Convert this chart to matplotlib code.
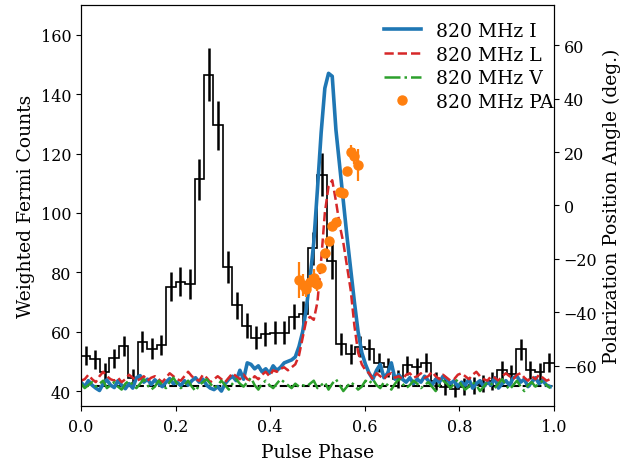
import numpy as np
import matplotlib
matplotlib.use("Agg")
import matplotlib.pyplot as plt
from matplotlib.lines import Line2D

plt.rcParams['font.family'] = ['DejaVu Serif']

# Fermi weighted counts, 50 phase bins
fermi_counts = [51.9, 50.7, 46.3, 51.1, 55.2, 44.5, 56.6, 54.3, 55.5, 75.2,
                76.9, 76.0, 111.3, 146.6, 129.5, 81.8, 68.9, 62.0, 58.0, 59.2,
                59.7, 59.7, 65.1, 65.9, 88.1, 112.9, 83.8, 56.0, 52.4, 55.0,
                54.1, 49.6, 48.0, 44.0, 48.7, 48.0, 49.6, 43.5, 41.5, 40.7,
                41.5, 42.0, 42.5, 43.5, 47.0, 45.7, 54.1, 47.0, 46.4, 49.6]
fermi_err = [3.2, 3.2, 3.0, 3.2, 3.5, 3.0, 3.6, 3.5, 3.5, 5.0,
             5.0, 5.0, 7.0, 8.8, 8.3, 5.5, 4.6, 4.2, 3.8, 3.9,
             3.9, 3.9, 4.3, 4.3, 5.6, 7.3, 5.9, 3.7, 3.4, 3.6,
             3.6, 3.3, 3.2, 3.0, 3.2, 3.2, 3.3, 3.0, 2.8, 2.8,
             2.8, 2.9, 2.9, 3.0, 3.1, 3.0, 3.6, 3.1, 3.1, 3.3]
background = 41.8

# 820 MHz radio profiles (128 bins), scaled to Fermi counts
radio_I = [43.0, 41.5, 43.5, 42.0, 41.0, 40.2, 42.5, 43.8, 42.0, 41.2,
           43.5, 42.0, 40.8, 42.5, 41.0, 44.5, 45.2, 43.0, 44.0, 42.2,
           43.8, 42.5, 41.5, 43.0, 44.2, 42.5, 43.0, 41.8, 43.5, 42.0,
           43.5, 44.5, 43.0, 44.0, 42.0, 41.0, 40.5, 41.5, 40.0, 42.5,
           44.0, 45.0, 43.5, 47.0, 44.0, 49.5, 49.0, 47.5, 48.5, 46.5,
           47.5, 46.0, 48.5, 47.0, 48.0, 49.5, 50.0, 50.5, 51.5,
           55.0, 60.0, 68.0, 78.0, 90.0, 108.0, 127.0, 142.0, 147.0, 146.0,
           128.0, 116.0, 104.0, 92.0, 81.0, 70.0, 60.0, 53.0, 49.0, 46.0,
           44.0, 47.0,
           49.0, 44.5, 46.0, 49.5, 44.0, 45.5, 44.0, 43.0, 44.5, 42.5,
           44.0, 43.0, 45.0, 43.5, 42.0, 44.0, 43.0, 45.0, 44.0, 42.5,
           43.5, 41.5, 43.0, 42.0, 44.0, 41.0, 42.5, 43.5, 41.5, 43.0,
           42.0, 44.5, 41.0, 42.5, 43.5, 42.0, 44.5, 45.0, 43.0, 44.0,
           41.5, 43.0, 44.5, 42.5, 43.5, 42.0, 41.5]
radio_L = [43.5, 44.0, 45.5, 44.0, 43.0, 45.0, 46.5, 45.0, 44.0, 43.5,
           44.5, 43.0, 44.0, 45.5, 44.5, 43.5, 44.0, 45.0, 43.5, 44.5,
           45.0, 44.0, 43.0, 44.5, 46.0, 45.0, 44.0, 43.5, 45.0, 46.5,
           45.0, 44.0, 43.5, 45.5, 44.5, 43.0, 44.0, 45.0, 44.0, 43.0,
           44.5, 46.0, 45.0, 44.0, 45.5, 44.0, 43.5, 45.0, 44.0, 45.5,
           46.5, 45.0, 47.0, 46.5, 47.5, 48.0,
           47.0, 48.0, 49.0, 52.0, 58.0, 64.0, 65.0, 64.0, 70.0, 84.0,
           100.0, 109.0, 111.0, 104.0, 96.0, 90.0, 82.0, 74.0, 62.0, 53.0,
           49.0, 47.0, 46.0, 44.0, 46.0,
           45.0, 44.0, 45.5, 46.0, 44.5, 45.0, 44.0, 45.5, 46.0, 44.5,
           45.0, 46.0, 44.5, 45.0, 46.5, 45.0, 44.0, 45.5, 44.5, 43.5,
           44.0, 45.5, 46.0, 45.0, 44.0, 45.5, 46.5, 45.0, 44.0, 43.5,
           45.0, 44.5, 43.5, 45.0, 46.0, 45.0, 44.0, 45.5, 46.0, 44.5,
           43.5, 45.0, 44.0, 45.5, 44.5, 43.5, 44.0]
radio_V = [42.5, 41.0, 42.0, 43.0, 41.5, 42.5, 43.5, 41.0, 42.0, 43.0,
           41.5, 40.5, 42.5, 43.5, 42.0, 41.0, 42.5, 44.0, 42.0, 40.5,
           41.5, 43.5, 42.0, 41.0, 43.0, 44.5, 42.5, 41.0, 42.0, 43.5,
           41.5, 40.0, 42.0, 43.0, 44.0, 42.5, 41.0, 42.0, 43.5, 42.0,
           40.5, 42.5, 44.0, 42.5, 41.5, 43.0, 44.5, 42.0, 40.5, 42.5,
           43.5, 42.0, 41.0, 42.5, 44.0, 43.0, 42.0, 41.0, 42.5, 41.5,
           42.0, 41.5, 42.5, 43.5, 41.0, 42.0, 43.0, 40.5, 42.5, 44.0,
           42.0, 40.0, 41.5, 43.0, 42.0, 40.5, 41.5, 43.5, 42.5, 44.0,
           42.0, 41.0, 43.0, 42.0, 40.5, 42.5, 44.0, 42.5, 41.0, 42.0,
           43.5, 42.5, 41.0, 42.0, 43.0, 41.5, 40.0, 42.0, 43.5, 42.5,
           41.0, 42.5, 44.0, 42.0, 40.5, 41.5, 43.0, 42.0, 40.0, 41.5,
           43.0, 42.5, 41.0, 42.5, 44.0, 42.0, 40.5, 42.0, 43.5, 41.5,
           40.0, 42.0, 43.0, 41.5, 42.5, 43.5, 42.0, 41.0]

# polarization position angle (deg), bins 59..75 of 128
pa_bins = list(range(59, 76))
pa_deg = [-28.0, -29.8, -31.1, -28.6, -27.3, -29.5, -23.3, -17.8, -13.3,
          -7.7, -6.0, 5.0, 4.6, 12.8, 20.1, 18.6, 15.2]
pa_err = [6.8, 4.0, 3.0, 2.5, 3.5, 2.5, 1.5, 1.5, 1.5, 1.5, 1.2, 1.2,
          1.2, 1.5, 2.5, 3.0, 6.0]


def main():
    edges = np.linspace(0, 1, len(fermi_counts) + 1)
    centers = 0.5 * (edges[1:] + edges[:-1])
    radio_phase = np.arange(len(radio_I)) / len(radio_I)
    pa_phase = np.array(pa_bins) / len(radio_I)

    fig, ax = plt.subplots(figsize=(6.28, 4.64), dpi=100)
    fig.subplots_adjust(left=0.129, right=0.882, bottom=0.123, top=0.987)

    # fermi histogram
    ax.stairs(fermi_counts, edges, color='k', lw=1.2, baseline=None)
    ax.errorbar(centers, fermi_counts, yerr=fermi_err, fmt='none',
                ecolor='k', elinewidth=1.8)
    ax.axhline(background, color='k', ls='--', lw=1.5)

    # radio profiles
    ax.plot(radio_phase, radio_I, color='tab:blue', lw=2.6)
    ax.plot(radio_phase, radio_L, color='tab:red', ls='--', lw=1.8)
    ax.plot(radio_phase, radio_V, color='tab:green', ls='-.', lw=1.8)

    ax.set_xlim(0, 1)
    ax.set_ylim(35, 170)
    ax.set_xlabel('Pulse Phase', fontsize=13.5, labelpad=6)
    ax.set_ylabel('Weighted Fermi Counts', fontsize=13.5)
    ax.tick_params(labelsize=11.5)
    ax.tick_params(axis='x', pad=5)

    # position angle on second axis
    ax2 = ax.twinx()
    ax2.errorbar(pa_phase, pa_deg, yerr=pa_err, fmt='o', color='tab:orange',
                 ms=6.5, elinewidth=1.6)
    ax2.set_ylim(-75, 75)
    ax2.set_ylabel('Polarization Position Angle (deg.)', fontsize=13.5)
    ax2.tick_params(labelsize=11.5)

    handles = [Line2D([], [], color='tab:blue', lw=2.6),
               Line2D([], [], color='tab:red', ls='--', lw=1.8),
               Line2D([], [], color='tab:green', ls='-.', lw=1.8),
               Line2D([], [], color='tab:orange', marker='o', ls='none', ms=6.5)]
    labels = ['820 MHz I', '820 MHz L', '820 MHz V', '820 MHz PA']
    ax2.legend(handles, labels, loc='upper right', frameon=False,
               fontsize=13.5, labelspacing=0.3, bbox_to_anchor=(1.035, 1.0))

    plt.savefig('out.png')
    print("Done")


if __name__ == "__main__":
    main()
